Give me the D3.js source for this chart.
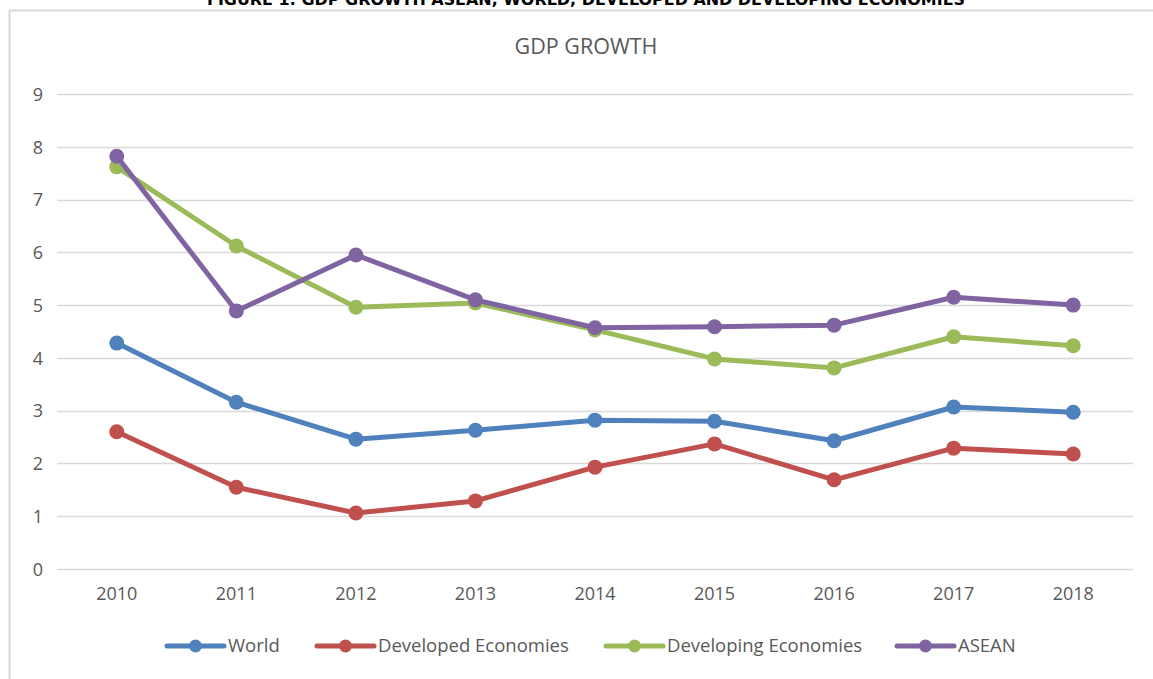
<!DOCTYPE html>
<html><head><meta charset="utf-8">
<script src="https://cdn.jsdelivr.net/npm/d3@7"></script>
<style>body{margin:0;background:#fff;}svg{display:block;font-family:"Open Sans",sans-serif;}</style>
</head><body>
<svg id="c" width="1153" height="679"></svg>
<script>
const years = ["2010","2011","2012","2013","2014","2015","2016","2017","2018"];
const world = [4.28,3.16,2.46,2.63,2.82,2.80,2.43,3.07,2.97];
const developed = [2.60,1.55,1.06,1.29,1.93,2.37,1.69,2.29,2.18];
const developing = [7.62,6.12,4.96,5.04,4.53,3.98,3.81,4.40,4.23];
const asean = [7.82,4.89,5.95,5.10,4.57,4.59,4.62,5.15,5.00];
const yTicks = [0,1,2,3,4,5,6,7,8,9];
const seriesNames = ["World","Developed Economies","Developing Economies","ASEAN"];
const seriesColors = ["#4F81BD","#C0504D","#9BBB59","#8064A2"];
const series = [world, developed, developing, asean];

(function(){
const svg = d3.select("#c");
svg.append("text").attr("x",586).attr("y",5).attr("text-anchor","middle")
  .attr("font-family","'DejaVu Sans Condensed','DejaVu Sans',sans-serif").attr("font-weight","bold")
  .attr("font-size",15).attr("fill","#000").attr("textLength",758).attr("lengthAdjust","spacingAndGlyphs")
  .text("FIGURE 1: GDP GROWTH ASEAN, WORLD, DEVELOPED AND DEVELOPING ECONOMIES");
svg.append("line").attr("x1",9.5).attr("x2",1153).attr("y1",10.5).attr("y2",10.5).attr("stroke","#d9d9d9").attr("stroke-width",2);
svg.append("line").attr("x1",9.5).attr("x2",9.5).attr("y1",10).attr("y2",679).attr("stroke","#d9d9d9").attr("stroke-width",2);

svg.append("text").attr("x",586).attr("y",54).attr("text-anchor","middle")
  .attr("font-size",21.5).attr("fill","#595959").text("GDP GROWTH");

const pl=57, pr=1133, pt=94, pb=569;
const x = d3.scaleBand().domain(years).range([pl,pr]);
const y = d3.scaleLinear().domain([0,9]).range([pb,pt]);

const grid = svg.append("g");
grid.selectAll("line").data(yTicks).join("line")
  .attr("x1",pl).attr("x2",pr).attr("y1",d=>Math.round(y(d))+0.5).attr("y2",d=>Math.round(y(d))+0.5)
  .attr("stroke","#d9d9d9").attr("stroke-width",1.5);

const yAxis = svg.append("g").attr("transform",`translate(${pl-14},0)`)
  .call(d3.axisLeft(y).tickValues(yTicks).tickSize(0).tickPadding(0));
yAxis.select(".domain").remove();
yAxis.selectAll("text").attr("font-size",18).attr("fill","#595959").attr("font-family","'Open Sans',sans-serif").attr("dy","0.35em");

const xAxis = svg.append("g").attr("transform",`translate(0,${pb})`)
  .call(d3.axisBottom(x).tickSize(0).tickPadding(18));
xAxis.select(".domain").remove();
xAxis.selectAll("text").attr("font-size",18).attr("fill","#595959").attr("font-family","'Open Sans',sans-serif");

const cx = d => x(d) + x.bandwidth()/2;
const line = d3.line().x((d,i)=>cx(years[i])).y(d=>y(d));
series.forEach((s,k)=>{
  const g = svg.append("g");
  g.append("path").attr("d",line(s)).attr("fill","none").attr("stroke",seriesColors[k])
    .attr("stroke-width",5).attr("stroke-linejoin","round").attr("stroke-linecap","round");
  g.selectAll("circle").data(s).join("circle").attr("cx",(d,i)=>cx(years[i])).attr("cy",d=>y(d))
    .attr("r",7.5).attr("fill",seriesColors[k]);
});

const lg = svg.append("g");
const lx = [167,317,606,897];
seriesNames.forEach((n,k)=>{
  const g = lg.append("g").attr("transform",`translate(${lx[k]},646)`);
  g.append("line").attr("x1",0).attr("x2",57).attr("y1",0).attr("y2",0).attr("stroke",seriesColors[k]).attr("stroke-width",5).attr("stroke-linecap","round");
  g.append("circle").attr("cx",28.5).attr("cy",0).attr("r",6.5).attr("fill",seriesColors[k]);
  g.append("text").attr("x",61).attr("y",0).attr("dy","0.35em").attr("font-size",18.5).attr("fill","#595959").text(n);
});
})();
</script>
</body></html>
